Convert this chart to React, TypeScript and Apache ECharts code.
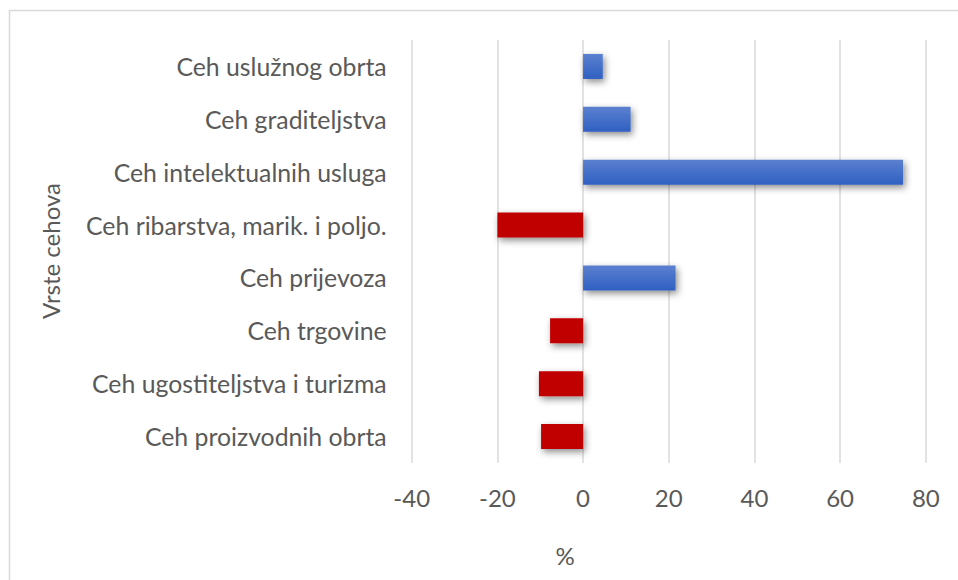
import React, { useEffect, useRef } from "react";
import * as echarts from "echarts";

const categories = [
  "Ceh uslužnog obrta",
  "Ceh graditeljstva",
  "Ceh intelektualnih usluga",
  "Ceh ribarstva, marik. i poljo.",
  "Ceh prijevoza",
  "Ceh trgovine",
  "Ceh ugostiteljstva i turizma",
  "Ceh proizvodnih obrta",
];
const values = [4.6, 11.1, 74.7, -20.0, 21.6, -7.7, -10.3, -9.8];
const xAxisName = "%";
const yAxisName = "Vrste cehova";

const FONT = "Lato, 'Open Sans', sans-serif";
const TEXT = "#595959";

export default function App() {
  const ref = useRef<HTMLDivElement>(null);
  useEffect(() => {
    if (!ref.current) return;
    const chart = echarts.init(ref.current, undefined, { renderer: "svg" });
    const blue = new echarts.graphic.LinearGradient(0, 0, 0, 1, [
      { offset: 0, color: "#5b80cf" },
      { offset: 1, color: "#2f60c2" },
    ]);
    chart.setOption({
      animation: false,
      backgroundColor: "#ffffff",
      grid: { left: 411.7, right: 32.2, top: 40, bottom: 117, containLabel: false },
      xAxis: {
        type: "value",
        min: -40,
        max: 80,
        interval: 20,
        axisLine: { show: false },
        axisTick: { show: false },
        splitLine: { show: true, lineStyle: { color: "#d9d9d9", width: 1.5 } },
        axisLabel: { color: TEXT, fontSize: 24, fontFamily: FONT, margin: 22 },
      },
      yAxis: {
        type: "category",
        data: categories,
        inverse: true,
        axisLine: { show: false },
        axisTick: { show: false },
        axisLabel: { color: TEXT, fontSize: 24.8, fontFamily: FONT, margin: 25 },
      },
      series: [
        {
          type: "bar",
          barWidth: 25,
          data: values.map((v) => ({
            value: v,
            itemStyle: {
              color: v >= 0 ? blue : "#c00000",
              shadowColor: "rgba(0,0,0,0.45)",
              shadowBlur: 7,
              shadowOffsetX: 2,
              shadowOffsetY: 3,
            },
          })),
        },
      ],
      graphic: [
        {
          type: "rect",
          shape: { x: 9.5, y: 10.5, width: 1000, height: 1000 },
          style: { fill: "none", stroke: "#d9d9d9", lineWidth: 1.5 },
          silent: true,
        },
        {
          type: "text",
          x: 565,
          y: 555,
          style: {
            text: xAxisName,
            fill: TEXT,
            fontSize: 24,
            fontFamily: FONT,
            align: "center",
            verticalAlign: "middle",
          },
        },
        {
          type: "text",
          x: 50,
          y: 251,
          rotation: Math.PI / 2,
          style: {
            text: yAxisName,
            fill: TEXT,
            fontSize: 24,
            fontFamily: FONT,
            align: "center",
            verticalAlign: "middle",
          },
        },
      ],
    });
    return () => chart.dispose();
  }, []);
  return (
    <div
      ref={ref}
      style={{ position: "absolute", left: 0, top: 0, width: 958, height: 580 }}
    />
  );
}
